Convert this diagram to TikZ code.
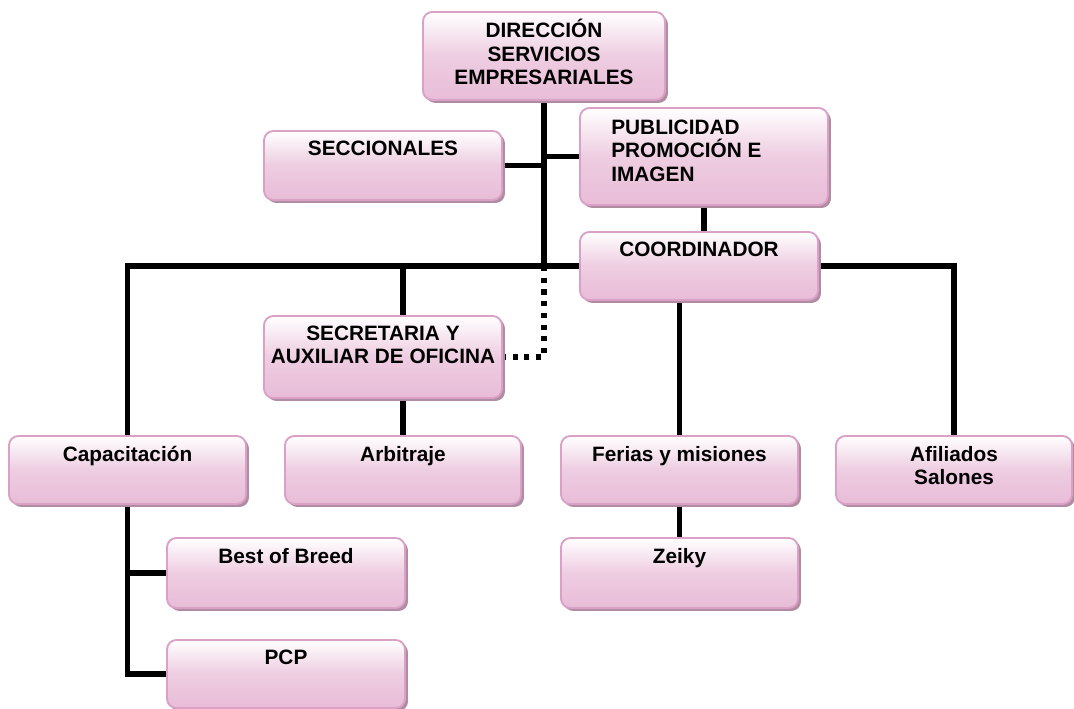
\documentclass[tikz,border=0pt]{standalone}
\usepackage{fontspec}
\setmainfont{Liberation Sans}
\usetikzlibrary{shadows}
\definecolor{boxline}{RGB}{218,160,198}
\definecolor{boxfill}{RGB}{232,188,215}
\definecolor{boxshadow}{RGB}{175,140,162}
\pgfdeclarelayer{bg}
\pgfsetlayers{bg,main}
\begin{document}
\begin{tikzpicture}[x=0.75pt,y=-0.75pt,
  orgbox/.style={draw=boxline, line width=1.4pt, rounded corners=7pt,
    top color=white, bottom color=boxfill, middle color=boxfill!75!white, inner sep=0pt,
    drop shadow={shadow xshift=2.2pt, shadow yshift=-2.2pt, fill=boxshadow, opacity=1}},
  otext/.style={font=\fontsize{15.6}{17.6}\selectfont\bfseries, align=center,
    inner sep=0pt, anchor=north},
  link/.style={line width=4pt, black},
  dotlink/.style={line width=3.8pt, black, dash pattern=on 3.8pt off 5pt}]
\useasboundingbox (0,0) rectangle (1074,709);

% boxes
\node[orgbox, minimum width=181.5pt, minimum height=66pt]   (dir)   at (544,56)    {};
\node[orgbox, minimum width=178.5pt, minimum height=51.75pt] (secc)  at (383,165.5) {};
\node[orgbox, minimum width=186pt,   minimum height=72.75pt] (pub)   at (704,156.5) {};
\node[orgbox, minimum width=178.5pt, minimum height=51pt]   (coord) at (699,266)   {};
\node[orgbox, minimum width=178.5pt, minimum height=61.5pt] (secr)  at (383,357)   {};
\node[orgbox, minimum width=177.75pt, minimum height=51pt]  (cap)   at (127.5,470) {};
\node[orgbox, minimum width=177pt,   minimum height=51pt]   (arb)   at (403,470)   {};
\node[orgbox, minimum width=177.75pt, minimum height=51pt]  (fer)   at (679.5,470) {};
\node[orgbox, minimum width=177pt,   minimum height=51pt]   (afi)   at (954,470)   {};
\node[orgbox, minimum width=178.5pt, minimum height=52.5pt] (best)  at (286,573)   {};
\node[orgbox, minimum width=178.5pt, minimum height=51pt]   (pcp)   at (286,674)   {};
\node[orgbox, minimum width=177.75pt, minimum height=52.5pt] (zeiky) at (679.5,573) {};

% labels
\node[otext] (dir-t)   at ([yshift=-6pt]dir.north)   {DIRECCIÓN\\SERVICIOS\\EMPRESARIALES};
\node[otext] (secc-t)  at ([yshift=-8pt]secc.north)  {SECCIONALES};
\node[otext, align=left, anchor=north west] (pub-t) at ([xshift=24pt,yshift=-9.5pt]pub.north west) {PUBLICIDAD\\PROMOCIÓN E\\IMAGEN};
\node[otext] (coord-t) at ([yshift=-8pt]coord.north) {COORDINADOR};
\node[otext] (secr-t)  at ([yshift=-8pt]secr.north)  {SECRETARIA Y\\AUXILIAR DE OFICINA};
\node[otext] (cap-t)   at ([yshift=-8pt]cap.north)   {Capacitación};
\node[otext] (arb-t)   at ([yshift=-8pt]arb.north)   {Arbitraje};
\node[otext] (fer-t)   at ([yshift=-8pt]fer.north)   {Ferias y misiones};
\node[otext] (afi-t)   at ([yshift=-8pt]afi.north)   {Afiliados\\Salones};
\node[otext] (best-t)  at ([yshift=-8pt]best.north)  {Best of Breed};
\node[otext] (pcp-t)   at ([yshift=-8pt]pcp.north)   {PCP};
\node[otext] (zeiky-t) at ([yshift=-8pt]zeiky.north) {Zeiky};

% connectors
\begin{pgfonlayer}{bg}
  \coordinate (hub) at (dir.south |- coord.west);
  \draw[link] (dir.south) -- (hub);
  \draw[link] (secc.east) -- (secc.east -| hub);
  \draw[link] (pub.west -| hub) -- (pub.west);
  \draw[link] (pub.south) -- (pub.south |- coord.north);
  \draw[link] (cap.north) |- (coord.west);
  \draw[link] (coord.east) -| (afi.north);
  \draw[link] (arb.north |- coord.west) -- (arb.north |- secr.north);
  \draw[link] (arb.north |- secr.south) -- (arb.north);
  \draw[link] (fer.north |- coord.south) -- (fer.north);
  \draw[link] (fer.south) -- (zeiky.north);
  \draw[link] (cap.south) -- (cap.south |- pcp.west) -- (pcp.west);
  \draw[link] (cap.south |- best.west) -- (best.west);
  \draw[dotlink] (hub) -- (hub |- secr.east) -- (secr.east);
\end{pgfonlayer}
\end{tikzpicture}
\end{document}
